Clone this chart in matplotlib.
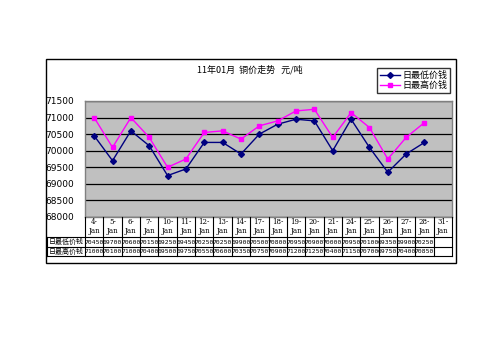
import matplotlib
matplotlib.use("Agg")
import matplotlib.pyplot as plt
from matplotlib.transforms import blended_transform_factory
from matplotlib.lines import Line2D
from matplotlib.patches import Rectangle

plt.rcParams['font.family'] = ['Noto Sans CJK SC', 'DejaVu Sans']

dates = ["4-Jan", "5-Jan", "6-Jan", "7-Jan", "10-Jan", "11-Jan", "12-Jan", "13-Jan", "14-Jan",
         "17-Jan", "18-Jan", "19-Jan", "20-Jan", "21-Jan", "24-Jan", "25-Jan", "26-Jan", "27-Jan",
         "28-Jan", "31-Jan"]
low = [70450, 69700, 70600, 70150, 69250, 69450, 70250, 70250, 69900, 70500,
       70800, 70950, 70900, 70000, 70950, 70100, 69350, 69900, 70250, None]
high = [71000, 70100, 71000, 70400, 69500, 69750, 70550, 70600, 70350, 70750,
        70900, 71200, 71250, 70400, 71150, 70700, 69750, 70400, 70850, None]
low_name = "日最低价钱"
high_name = "日最高价钱"
title = "11年01月  铜价走势   元/吨"
yticks = list(range(68000, 71501, 500))

W, H = 503, 356
fig = plt.figure(figsize=(W / 100, H / 100), dpi=100)

def fx(px):
    return px / W

def fy(py):
    return 1 - py / H

# outer frame
fig.patches.append(Rectangle((fx(46), fy(263)), fx(456 - 46), fy(59) - fy(263),
                             transform=fig.transFigure, fill=False, edgecolor='black', lw=1.0))

L, R, T, B = 85, 452, 101, 217
ax = fig.add_axes([fx(L), fy(B), fx(R - L), fy(T) - fy(B)])
ax.set_facecolor('#C0C0C0')
n = len(dates)
xs = list(range(n))
lx = [x for x, v in zip(xs, low) if v is not None]
lv = [v for v in low if v is not None]
hx = [x for x, v in zip(xs, high) if v is not None]
hv = [v for v in high if v is not None]
ax.plot(lx, lv, color='#000080', marker='D', markersize=3.0, lw=1.0, label=low_name)
ax.plot(hx, hv, color='#FF00FF', marker='s', markersize=3.5, lw=1.0, label=high_name)
ax.set_xlim(-0.5, n - 0.5)
ax.set_ylim(68000, 71500)
ax.set_yticks(yticks)
ax.set_yticklabels([str(t) for t in yticks], fontsize=6.5, family='DejaVu Sans')
ax.tick_params(axis='y', length=0, pad=8)
ax.set_xticks([])
ax.grid(axis='y', color='black', lw=0.9)
ax.set_axisbelow(True)
for s in ax.spines.values():
    s.set_color('#808080')
    s.set_linewidth(1.0)

fig.text(fx(250), fy(70), title, ha='center', va='center', fontsize=6.5)

leg = ax.legend(loc='upper left', bbox_to_anchor=(fx(377), fy(68)), bbox_transform=fig.transFigure,
                frameon=True, fancybox=False, fontsize=6.5, handlelength=2.2, borderpad=0.3,
                labelspacing=0.1, handletextpad=0.3, borderaxespad=0)
leg.get_frame().set_edgecolor('black')
leg.get_frame().set_linewidth(1.0)

# data table
tr = blended_transform_factory(ax.transData, fig.transFigure)
rows_y = [217, 237, 247, 256]
lab_left = 47
for y in rows_y[1:]:
    fig.lines.append(Line2D([fx(lab_left), fx(R)], [fy(y), fy(y)], transform=fig.transFigure,
                            color='black', lw=0.8))
for i in range(n + 1):
    fig.lines.append(Line2D([i - 0.5, i - 0.5], [fy(217), fy(256)], transform=tr, color='black', lw=0.8))
fig.lines.append(Line2D([fx(lab_left), fx(lab_left)], [fy(237), fy(256)], transform=fig.transFigure,
                        color='black', lw=0.8))
for i, d in enumerate(dates):
    day, mon = d.split('-')
    fig.text(i, fy(222), day + '-', transform=tr, ha='center', va='center', fontsize=5, family='DejaVu Serif')
    fig.text(i, fy(231), mon, transform=tr, ha='center', va='center', fontsize=5, family='DejaVu Serif')
    if low[i] is not None:
        fig.text(i, fy(242), str(low[i]), transform=tr, ha='center', va='center', fontsize=4.6,
                 family='DejaVu Sans Mono')
    if high[i] is not None:
        fig.text(i, fy(251.5), str(high[i]), transform=tr, ha='center', va='center', fontsize=4.6,
                 family='DejaVu Sans Mono')
fig.text(fx(66), fy(242), low_name, ha='center', va='center', fontsize=5)
fig.text(fx(66), fy(251.5), high_name, ha='center', va='center', fontsize=5)

fig.savefig("out.png", dpi=100)
